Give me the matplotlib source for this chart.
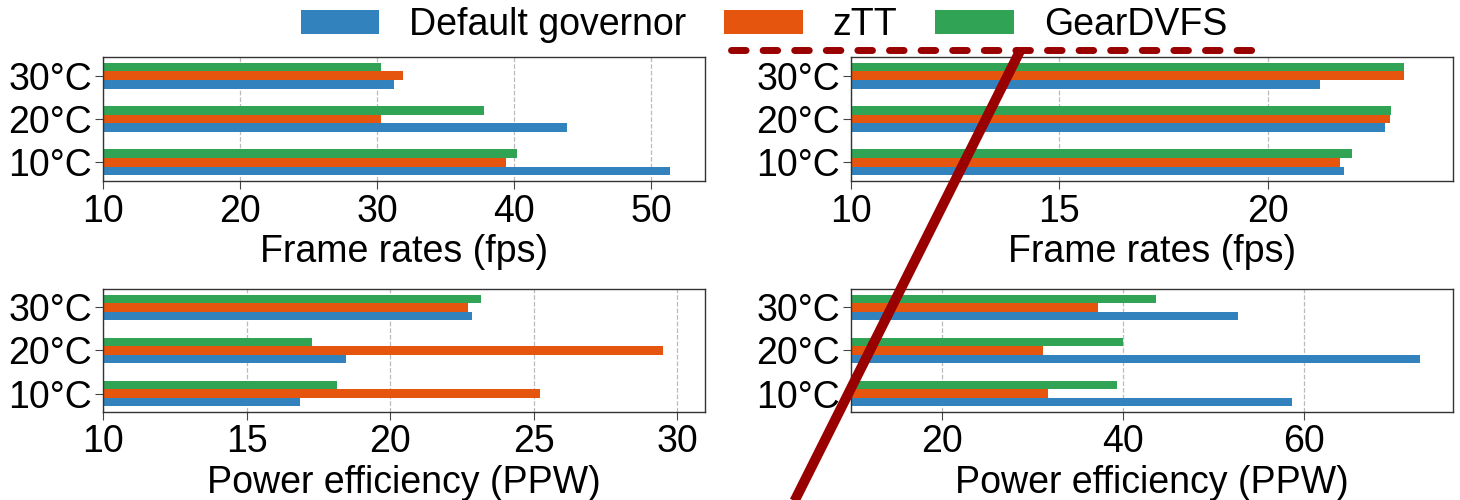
import matplotlib
matplotlib.use("Agg")
import matplotlib.pyplot as plt
from matplotlib.lines import Line2D
import numpy as np

plt.rcParams['font.family'] = ['Liberation Sans', 'DejaVu Sans']

temps = ['10°C', '20°C', '30°C']
methods = ['Default governor', 'zTT', 'GearDVFS']
colors = ['#3182bd', '#e6550d', '#31a354']

fps_left_default = [51.34, 43.86, 31.24]
fps_left_ztt = [39.4, 30.28, 31.9]
fps_left_gear = [40.2, 37.8, 30.28]

fps_right_default = [21.84, 22.82, 21.26]
fps_right_ztt = [21.73, 22.94, 23.28]
fps_right_gear = [22.02, 22.96, 23.28]

ppw_left_default = [16.87, 18.45, 22.86]
ppw_left_ztt = [25.21, 29.50, 22.72]
ppw_left_gear = [18.14, 17.28, 23.16]

ppw_right_default = [58.68, 72.8, 52.66]
ppw_right_ztt = [31.77, 31.19, 37.28]
ppw_right_gear = [39.36, 40.03, 43.63]

panels = [
    (fps_left_default, fps_left_ztt, fps_left_gear, 'Frame rates (fps)'),
    (fps_right_default, fps_right_ztt, fps_right_gear, 'Frame rates (fps)'),
    (ppw_left_default, ppw_left_ztt, ppw_left_gear, 'Power efficiency (PPW)'),
    (ppw_right_default, ppw_right_ztt, ppw_right_gear, 'Power efficiency (PPW)'),
]

W, H = 1460, 500
fig = plt.figure(figsize=(W / 100, H / 100), dpi=100)

lefts = [103 / W, 851 / W]
width = 602 / W
tops = [57, 289]
heights = [124, 123]

FS = 27
bar_h = 0.2
y = np.arange(len(temps))
handles = []
for i, (d, z, g, xlabel) in enumerate(panels):
    r, c = divmod(i, 2)
    ax = fig.add_axes([lefts[c], 1 - (tops[r] + heights[r]) / H, width, heights[r] / H])
    b1 = ax.barh(y - bar_h, d, height=bar_h, color=colors[0], label=methods[0], linewidth=0)
    b2 = ax.barh(y, z, height=bar_h, color=colors[1], label=methods[1], linewidth=0)
    b3 = ax.barh(y + bar_h, g, height=bar_h, color=colors[2], label=methods[2], linewidth=0)
    if i == 0:
        handles = [b1, b2, b3]
    mx = max(max(d), max(z), max(g))
    ax.set_xlim(10, mx * 1.05)
    ax.set_yticks(y)
    ax.set_yticklabels(temps, fontsize=FS)
    ax.tick_params(axis='x', labelsize=FS, length=6, color='#444444', pad=3)
    ax.tick_params(axis='y', length=6, color='#444444', pad=2)
    ax.set_xlabel(xlabel, fontsize=FS, labelpad=3)
    ax.grid(axis='x', linestyle='--', color='#bbbbbb', linewidth=0.9)
    ax.set_axisbelow(True)
    for sp in ax.spines.values():
        sp.set_color('#333333')
        sp.set_linewidth(1.0)

fig.legend(handles, methods, loc='center', bbox_to_anchor=(764 / W, 1 - 25 / H),
           ncol=3, frameon=False, fontsize=27, handlelength=2.1, handleheight=0.62,
           handletextpad=0.8, columnspacing=1.0)

red = '#990000'
fig.add_artist(Line2D([731 / W, 1252 / W], [1 - 50 / H, 1 - 50 / H], transform=fig.transFigure,
                      color=red, linewidth=5.0, linestyle=(0, (2.1, 2.45)),
                      dash_capstyle='round'))
fig.add_artist(Line2D([1021 / W, 792 / W], [1 - 49 / H, 1 - 506 / H], transform=fig.transFigure,
                      color=red, linewidth=7.2, solid_capstyle='butt'))

fig.savefig('out.png', dpi=100)
